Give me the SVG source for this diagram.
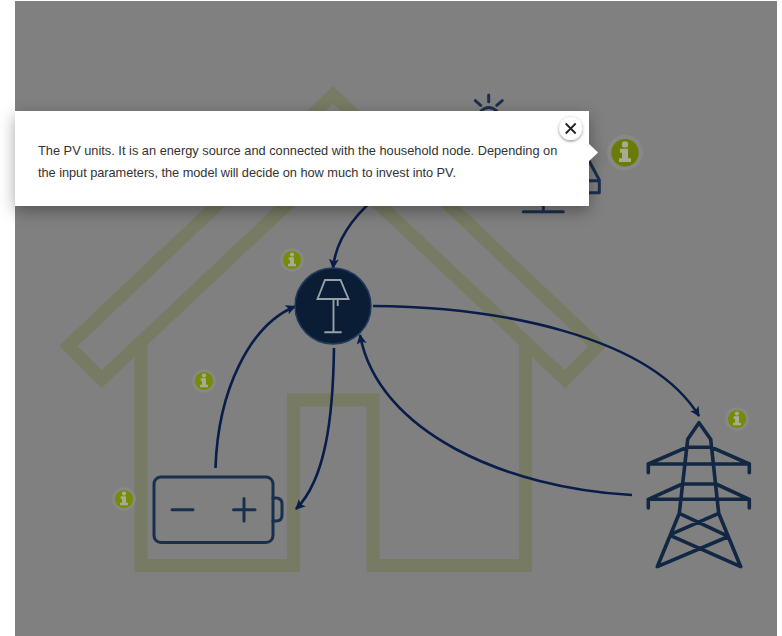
<svg xmlns="http://www.w3.org/2000/svg" width="782" height="636" viewBox="0 0 782 636">
<style>
.house{fill:none;stroke:#787b63;stroke-width:13;stroke-linejoin:miter}
.icon{fill:none;stroke:#182f4e;stroke-width:3;stroke-linecap:round;stroke-linejoin:round}
.tower{fill:none;stroke:#122743;stroke-width:3.600;stroke-linecap:round;stroke-linejoin:round}
.lamp{fill:none;stroke:#98a0a8;stroke-width:1.900}
.conn{fill:none;stroke:#081d48;stroke-width:2.600;marker-end:url(#arrow)}
.tip{font-family:"Liberation Sans",Arial,sans-serif;font-size:12.800px;fill:#333}
.glyph{fill:#a8ab94}
</style>
<defs>
<marker id="arrow" markerUnits="userSpaceOnUse" markerWidth="12" markerHeight="12" refX="9" refY="5" orient="auto"><path d="M0,0 L10,5 L0,10 L2.500,5 Z" fill="#081d48"/></marker>
<filter id="shadow" x="-10%" y="-30%" width="120%" height="170%"><feDropShadow dx="0" dy="5" stdDeviation="8" flood-color="#000" flood-opacity="0.35"/></filter>
<filter id="soft" x="-40%" y="-40%" width="180%" height="180%"><feDropShadow dx="0" dy="1" stdDeviation="1.500" flood-color="#000" flood-opacity="0.5"/></filter>
<g id="i"><circle cy="-8.300" r="3.200" class="glyph"/><path class="glyph" d="M-5,-4 H3 V5.500 H6 V9.400 H-6 V5.500 H-3 V0 H-5 Z"/></g>
<g id="info"><circle r="11.800" fill="#888886"/><circle r="9.100" fill="#788b08"/><use href="#i" transform="scale(.66)"/></g>
</defs>
<rect width="782" height="636" fill="#fff"/>
<rect x="15" y="1" width="762" height="635" fill="#808080"/>
<g id="house">
<path class="house" d="M68.400,346 L333,95 L597.500,346 L565,379.300 L333,161 L101.500,379.300 Z"/>
<path class="house" d="M141,345 V565.500 H293.500 V400 H373 V565.500 H525.500 V345"/>
</g>
<g id="connectors">
<path class="conn" d="M385,190 C355,213 336,238 333,268"/>
<path class="conn" d="M215.500,468 C218,390 250,325 295,306.500"/>
<path class="conn" d="M334,348 C333,420 325,480 296,509"/>
<path class="conn" d="M373,306 C500,307 650,336 699,416"/>
<path class="conn" d="M632,495 C505,488 378,432 360,335"/>
</g>
<g id="pv">
<path class="icon" d="M488.700,95 V101.700 M475.300,100.700 L480.700,105.300 M502.300,100.700 L496.700,105.300 M481,111 Q488.700,104 496.700,111"/>
<path class="icon" d="M523.300,211.700 H563.300 M543.300,204 V211.700 M587,157 L599.300,180 V192.700 H586 M586,180.700 H599.300"/>
</g>
<g id="household">
<circle cx="333" cy="306" r="38" fill="#0a1d35" stroke="#1f3a5f" stroke-width="1.500"/>
<path class="lamp" d="M325,280 H340.500 L348.500,299 H317.500 Z M333.500,299 V332.300 M324.300,332.300 H341.700 M337.700,299 V306"/>
</g>
<g id="battery">
<rect class="icon" x="154" y="477" width="119" height="65.500" rx="7"/>
<path class="icon" d="M273,498 H276 Q282,498 282,504 V515 Q282,521 276,521 H273 M172,509.700 H193 M233.500,509.700 H255 M244,498.500 V521"/>
</g>
<g id="grid">
<path class="tower" d="M687.700,439.300 L699,422.700 L710.700,439.300 M687.700,439.300 L679.300,513.300 L657.300,566.700 L727.300,537 M710.700,439.300 L718.700,513.300 L740.700,566.700 L670.700,535.700 M679.300,513.300 L726.700,535.700 M718.700,513.300 L670.700,534.300 M648.300,472.700 V464 H749.300 V472.700 M648.300,464 L686.700,447.300 H711.700 L749.300,464 M648.300,508 V499.300 H749.300 V508 M648.300,499.300 L682.300,484 H716 L749.300,499.300"/>
</g>
<use id="info-household" href="#info" x="292" y="260"/>
<use id="info-storage" href="#info" x="204" y="381"/>
<use id="info-battery" href="#info" x="124" y="499"/>
<use id="info-grid" href="#info" x="737" y="419"/>
<g id="popup">
<path d="M15,111 H589 V144 L598,152.500 L589,161 V206 H15 Z" fill="#fff" filter="url(#shadow)"/>
<text class="tip" x="38" y="155">The PV units. It is an energy source and connected with the household node. Depending on</text>
<text class="tip" x="38" y="177" textLength="418">the input parameters, the model will decide on how much to invest into PV.</text>
<circle cx="570.700" cy="128.500" r="11.500" fill="#fff" filter="url(#soft)"/>
<path d="M565.700,123.500 L575.700,133.500 M575.700,123.500 L565.700,133.500" stroke="#222" stroke-width="1.800" fill="none"/>
</g>
<g id="info-pv" transform="translate(625,152.700)">
<circle r="18" fill="#888886"/><circle r="13.700" fill="#6c7b06"/>
<use href="#i"/>
</g>
</svg>
